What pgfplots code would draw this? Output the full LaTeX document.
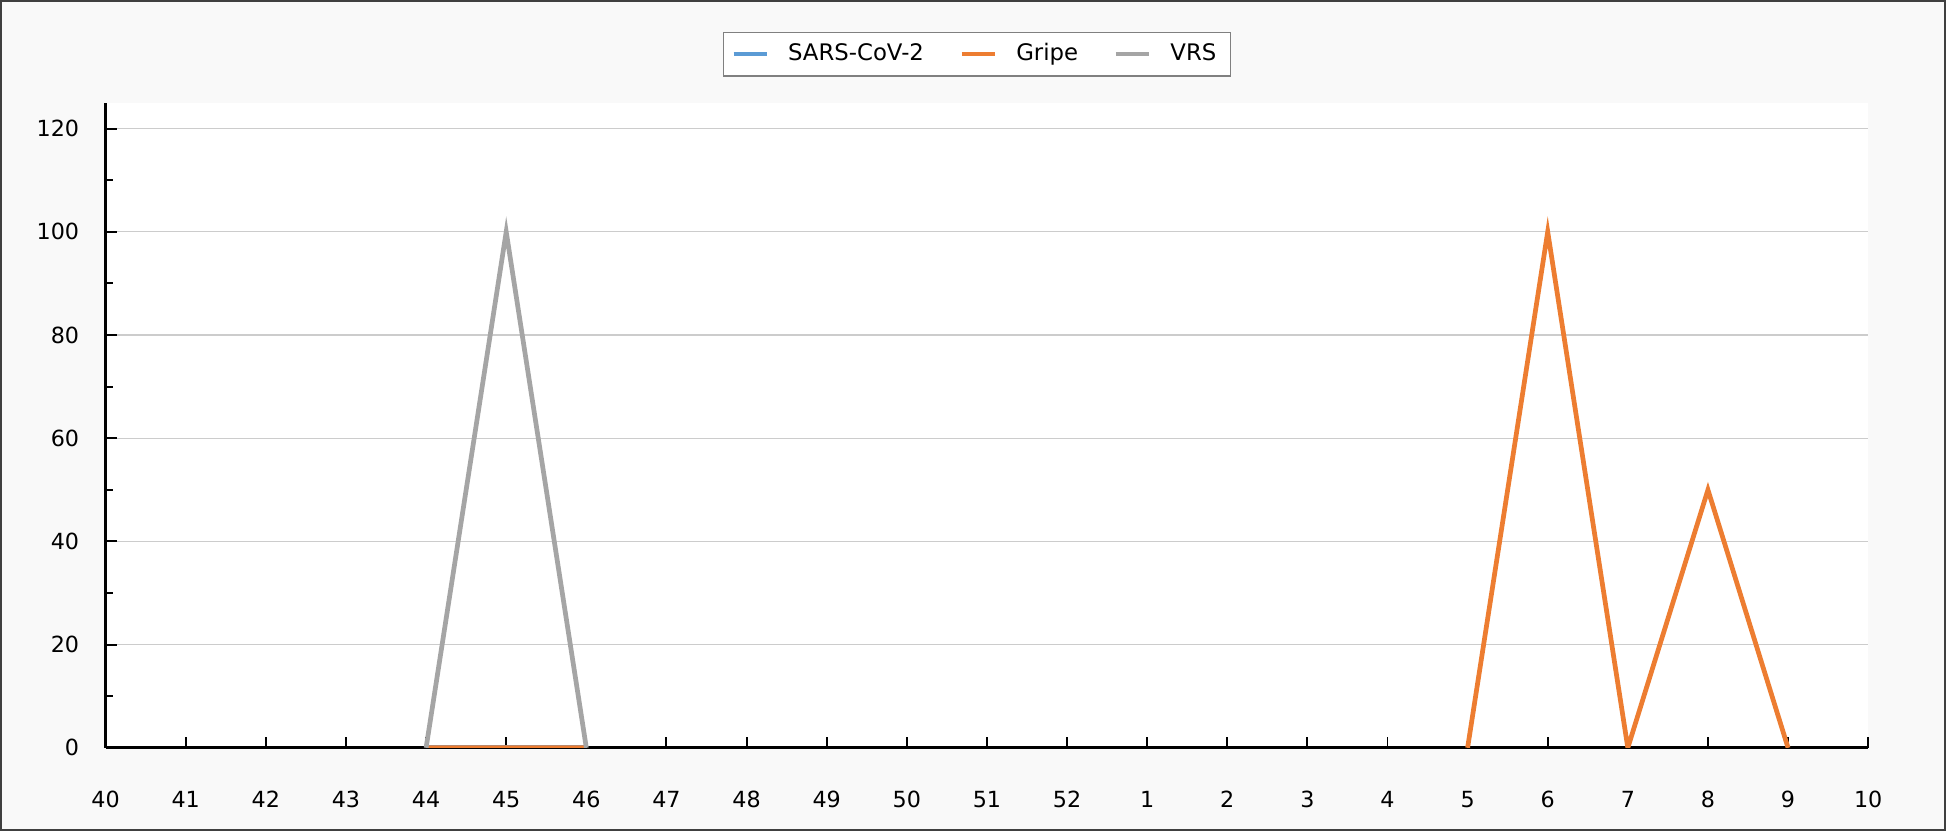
\documentclass[border=0pt]{standalone}
\usepackage{fontspec}
\setmainfont{DejaVu Sans}
\usepackage{pgfplots}
\pgfplotsset{compat=1.18}

\definecolor{sarsblue}{HTML}{5B9BD5}
\definecolor{gripeorange}{HTML}{ED7D31}
\definecolor{vrsgray}{HTML}{A5A5A5}
\definecolor{bgpanel}{HTML}{F9F9F9}
\definecolor{gridgray}{HTML}{CCCCCC}

\begin{document}
\begin{tikzpicture}[font=\fontsize{8}{9.6}\selectfont]
    % panel background
    \fill[bgpanel] (-38pt,-29.9pt) rectangle (662pt,269pt);
    \begin{axis}[
        at={(0,0)}, anchor=south west,
        scale only axis,
        width=634pt, height=232pt,
        axis background/.style={fill=white},
        xmin=0, xmax=22,
        ymin=0, ymax=125,
        xtick={0,...,22},
        xticklabels={40,41,42,43,44,45,46,47,48,49,50,51,52,1,2,3,4,5,6,7,8,9,10},
        ytick={0,20,...,120},
        minor ytick={10,30,...,110},
        axis x line*=bottom,
        axis y line*=left,
        axis line style={line width=1pt, black},
        tick style={black, line width=0.7pt},
        major tick length=4pt,
        minor tick length=2.5pt,
        tick align=inside,
        ymajorgrids=true,
        major grid style={gridgray, line width=0.4pt},
        xticklabel style={yshift=-12pt},
        yticklabel style={xshift=-6pt},
        /pgf/number format/assume math mode=true,
        unbounded coords=jump,
        legend columns=3,
        legend style={at={(0.5,1)}, anchor=south, yshift=9.4pt, xshift=-3.6pt,
            draw=gray, line width=0.5pt, fill=white,
            font=\fontsize{8.2}{9.8}\selectfont,
            /tikz/every odd column/.append style={column sep=5pt},
            /tikz/every even column/.append style={column sep=11pt}},
        legend image code/.code={
            \draw[#1, line width=1.2pt] (0pt,0pt) -- (12pt,0pt);
        },
        every axis plot/.append style={line width=1.7pt, no markers},
    ]
    % SARS-CoV-2
    \addplot[sarsblue] coordinates {(4,0)(5,0)(6,0)};
    \addlegendentry{SARS-CoV-2}
    % Gripe
    \addplot[gripeorange] coordinates {
        (4,0)(5,0)(6,0)(7,nan)(17,0)(18,100)(19,0)(20,50)(21,0)
    };
    \addlegendentry{Gripe}
    % VRS
    \addplot[vrsgray] coordinates {(4,0)(5,100)(6,0)};
    \addlegendentry{VRS\hspace{1.5pt}}
    \end{axis}
    % panel frame
    \draw[black!75, line width=0.8pt] (-37.6pt,-29.5pt) rectangle (661.6pt,268.6pt);
\end{tikzpicture}
\end{document}
